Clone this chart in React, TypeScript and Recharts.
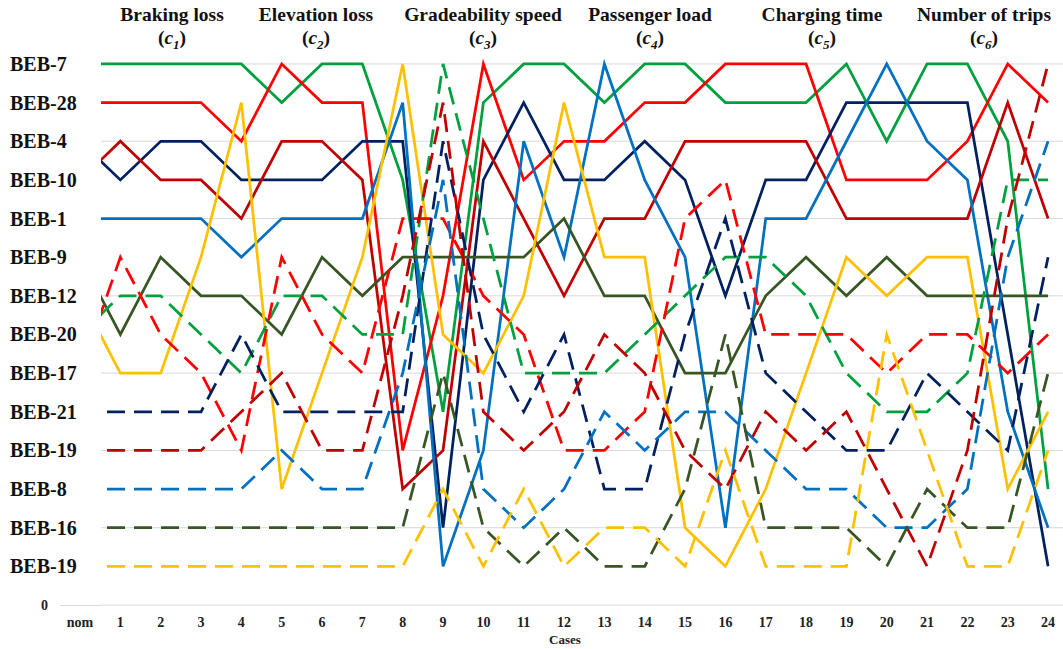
import { CartesianGrid, Line, LineChart, XAxis, YAxis } from "recharts";

// x categories: nominal case followed by the 24 sensitivity cases
const caseLabels = [
  "nom", "1", "2", "3", "4", "5", "6", "7", "8", "9", "10", "11", "12",
  "13", "14", "15", "16", "17", "18", "19", "20", "21", "22", "23", "24",
];

// y tick labels, indexed by rank value (0 = axis origin)
const rankLabels = [
  "0", "BEB-19", "BEB-16", "BEB-8", "BEB-19", "BEB-21", "BEB-17", "BEB-20",
  "BEB-12", "BEB-9", "BEB-1", "BEB-10", "BEB-4", "BEB-28", "BEB-7",
];

const criteria = [
  { title: "Braking loss", sub: "1", x: 172 },
  { title: "Elevation loss", sub: "2", x: 316 },
  { title: "Gradeability speed", sub: "3", x: 483 },
  { title: "Passenger load", sub: "4", x: 650 },
  { title: "Charging time", sub: "5", x: 822 },
  { title: "Number of trips", sub: "6", x: 984 },
];

// rank of each bus per case (nom, 1..24)
const beb7 = [14, 14, 14, 14, 14, 13, 14, 14, 11, 5, 13, 14, 14, 13, 14, 14, 13, 13, 13, 14, 12, 14, 14, 12, 3];
const beb28 = [13, 13, 13, 13, 12, 14, 13, 13, 4, 8, 14, 11, 12, 12, 13, 13, 14, 14, 14, 11, 11, 11, 12, 14, 13];
const beb4 = [12, 11, 12, 12, 11, 11, 11, 12, 12, 2, 11, 13, 11, 11, 12, 11, 8, 11, 11, 13, 13, 13, 13, 7, 1];
const beb10 = [11, 12, 11, 11, 10, 12, 12, 11, 3, 4, 12, 10, 8, 10, 10, 12, 12, 12, 12, 10, 10, 10, 10, 13, 10];
const beb1 = [10, 10, 10, 10, 9, 10, 10, 10, 13, 1, 4, 12, 9, 14, 11, 9, 2, 10, 10, 12, 14, 12, 11, 5, 2];
const beb9 = [9, 7, 9, 8, 8, 7, 9, 8, 9, 9, 9, 9, 10, 8, 8, 6, 6, 8, 9, 8, 9, 8, 8, 8, 8];
const beb12 = [8, 6, 6, 9, 13, 3, 6, 9, 14, 7, 6, 8, 13, 9, 9, 2, 1, 3, 6, 9, 8, 9, 9, 3, 5];
const beb20 = [7, 8, 8, 7, 6, 8, 8, 7, 7, 14, 10, 6, 6, 6, 7, 8, 9, 9, 8, 6, 5, 5, 6, 11, 11];
const beb17 = [6, 9, 7, 6, 4, 9, 7, 6, 10, 10, 8, 7, 4, 4, 5, 10, 11, 7, 7, 7, 6, 7, 7, 6, 7];
const beb21 = [5, 5, 5, 5, 7, 5, 5, 5, 5, 12, 7, 5, 7, 3, 3, 7, 10, 6, 5, 4, 4, 6, 5, 4, 9];
const beb19a = [4, 4, 4, 4, 5, 6, 4, 4, 8, 13, 5, 4, 5, 7, 6, 4, 3, 5, 4, 5, 3, 1, 4, 10, 14];
const beb8 = [3, 3, 3, 3, 3, 4, 3, 3, 6, 11, 3, 2, 3, 5, 4, 5, 5, 4, 3, 3, 2, 2, 3, 9, 12];
const beb16 = [2, 2, 2, 2, 2, 2, 2, 2, 2, 6, 2, 1, 2, 1, 1, 3, 7, 2, 2, 2, 1, 3, 2, 2, 6];
const beb19b = [1, 1, 1, 1, 1, 1, 1, 1, 1, 3, 1, 3, 1, 2, 2, 1, 4, 1, 1, 1, 7, 4, 1, 1, 4];

const series = [
  { key: "beb7", values: beb7, color: "#00a03e", dashed: false },
  { key: "beb28", values: beb28, color: "#ff0000", dashed: false },
  { key: "beb4", values: beb4, color: "#002060", dashed: false },
  { key: "beb10", values: beb10, color: "#c00000", dashed: false },
  { key: "beb1", values: beb1, color: "#0070c0", dashed: false },
  { key: "beb9", values: beb9, color: "#375623", dashed: false },
  { key: "beb12", values: beb12, color: "#ffc000", dashed: false },
  { key: "beb20", values: beb20, color: "#00a03e", dashed: true },
  { key: "beb17", values: beb17, color: "#ff0000", dashed: true },
  { key: "beb21", values: beb21, color: "#002060", dashed: true },
  { key: "beb19a", values: beb19a, color: "#c00000", dashed: true },
  { key: "beb8", values: beb8, color: "#0070c0", dashed: true },
  { key: "beb16", values: beb16, color: "#375623", dashed: true },
  { key: "beb19b", values: beb19b, color: "#ffc000", dashed: true },
];

const data = caseLabels.map((label, i) => {
  const row: Record<string, number | string> = { x: i, label };
  series.forEach((s) => {
    row[s.key] = s.values[i];
  });
  return row;
});

const serif = "'Liberation Serif', 'Times New Roman', serif";

const RankTick = ({ y, payload }: any) => {
  const v = payload.value as number;
  if (v === 0) {
    return (
      <text x={48} y={y + 5} textAnchor="end" fontSize={14} fontWeight="bold" fontFamily={serif} fill="#222">
        0
      </text>
    );
  }
  return (
    <text x={10} y={y + 7} fontSize={20} fontWeight="bold" fontFamily={serif} fill="#111">
      {rankLabels[v]}
    </text>
  );
};

const CaseTick = ({ x, y, payload }: any) => (
  <text x={x} y={y + 22} textAnchor="middle" fontSize={14} fontWeight="bold" fontFamily={serif} fill="#222">
    {caseLabels[payload.value]}
  </text>
);

const App = () => {
  return (
    <div style={{ position: "absolute", left: 0, top: 0, width: 1063, height: 649, background: "#fff", overflow: "hidden" }}>
      <LineChart
        width={1063}
        height={649}
        data={data}
        margin={{ top: 48.5, right: 0, left: 0, bottom: 14 }}
      >
        <CartesianGrid
          vertical={false}
          horizontalValues={[0, 2, 4, 6, 8, 10, 12, 14]}
          stroke="#d9d9d9"
        />
        <XAxis
          dataKey="x"
          type="number"
          domain={[0.52, 24.37]}
          allowDataOverflow
          ticks={caseLabels.map((_, i) => i)}
          interval={0}
          tick={<CaseTick />}
          tickLine={false}
          axisLine={false}
          tickSize={0}
          tickMargin={0}
          height={30}
        />
        <YAxis
          type="number"
          domain={[0, 14.4]}
          ticks={rankLabels.map((_, i) => i)}
          interval={0}
          tick={<RankTick />}
          tickLine={false}
          axisLine={false}
          width={101}
        />
        {series.map((s) => (
          <Line
            key={s.key}
            dataKey={s.key}
            type="linear"
            stroke={s.color}
            strokeWidth={2.75}
            strokeDasharray={s.dashed ? "18 9" : undefined}
            dot={false}
            activeDot={false}
            isAnimationActive={false}
          />
        ))}
      </LineChart>
      <div style={{ position: "absolute", left: 60, top: 605, width: 41, height: 1, background: "#d9d9d9" }} />
      {criteria.map((c) => (
        <div
          key={c.title}
          style={{
            position: "absolute",
            left: c.x,
            top: 3,
            transform: "translateX(-50%)",
            textAlign: "center",
            fontFamily: serif,
            fontWeight: "bold",
            fontSize: 19.5,
            lineHeight: "23px",
            whiteSpace: "nowrap",
            color: "#111",
          }}
        >
          <div>{c.title}</div>
          <div>
            (<i>c</i>
            <sub style={{ fontSize: 13, fontStyle: "italic" }}>{c.sub}</sub>)
          </div>
        </div>
      ))}
      <div
        style={{
          position: "absolute",
          left: 565,
          top: 632,
          transform: "translateX(-50%)",
          fontFamily: serif,
          fontWeight: "bold",
          fontSize: 13,
          color: "#222",
        }}
      >
        Cases
      </div>
    </div>
  );
};

export default App;
